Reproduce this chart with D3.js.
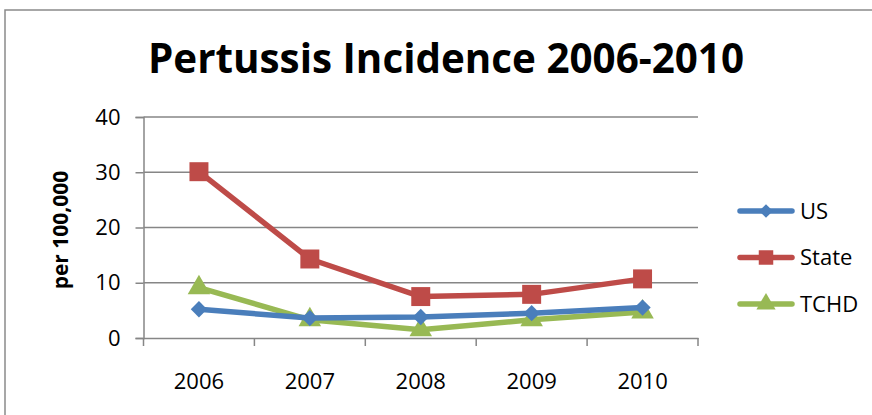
<!DOCTYPE html>
<html>
<head>
<meta charset="utf-8">
<script src="https://cdn.jsdelivr.net/npm/d3@7"></script>
<style>
  html, body { margin: 0; padding: 0; background: #fff; }
  svg { display: block; }
  text { font-family: "Open Sans", "DejaVu Sans", sans-serif; fill: #000; }
</style>
</head>
<body>
<svg id="chart" width="872" height="415"></svg>
<script>
// Pertussis incidence per 100,000 population
const years = ["2006", "2007", "2008", "2009", "2010"];
const usValues = [5.2, 3.6, 3.8, 4.5, 5.5];
const stateValues = [30.1, 14.3, 7.5, 7.9, 10.7];
const tchdValues = [9.1, 3.3, 1.5, 3.3, 4.7];
const yTicks = [0, 10, 20, 30, 40];

const seriesList = [
  { name: "US", values: usValues, color: "#4A7EBB", marker: "diamond" },
  { name: "State", values: stateValues, color: "#BE4B48", marker: "square" },
  { name: "TCHD", values: tchdValues, color: "#98B954", marker: "triangle" }
];

const svg = d3.select("#chart");

// chart frame
svg.append("rect")
  .attr("x", 5).attr("y", 10)
  .attr("width", 880).attr("height", 420)
  .attr("fill", "#fff")
  .attr("stroke", "#8a8a8a").attr("stroke-width", 1.5);

// title
svg.append("text")
  .attr("x", 446).attr("y", 73)
  .attr("text-anchor", "middle")
  .attr("font-size", 41).attr("font-weight", "bold")
  .attr("textLength", 596).attr("lengthAdjust", "spacingAndGlyphs")
  .text("Pertussis Incidence 2006-2010");

const plot = { left: 143.5, right: 698, top: 117, bottom: 338 };

const x = d3.scaleBand().domain(years).range([plot.left, plot.right]);
const y = d3.scaleLinear().domain([0, 40]).range([plot.bottom, plot.top]);

// horizontal gridlines
svg.append("g")
  .selectAll("line")
  .data(yTicks.filter(d => d > 0))
  .join("line")
  .attr("x1", plot.left).attr("x2", plot.right)
  .attr("y1", d => y(d)).attr("y2", d => y(d))
  .attr("stroke", "#868686").attr("stroke-width", 1.5);

// y axis
const yAxis = svg.append("g")
  .attr("transform", `translate(${plot.left},0)`)
  .call(d3.axisLeft(y).tickValues(yTicks).tickSize(8).tickPadding(15).tickFormat(d3.format("d")));
yAxis.select(".domain").attr("stroke", "#868686").attr("stroke-width", 1.5);
yAxis.selectAll(".tick line").attr("stroke", "#868686").attr("stroke-width", 1.5);
yAxis.selectAll(".tick text")
  .attr("font-size", 22).attr("font-family", "Open Sans, sans-serif").attr("fill", "#000");

// x axis: labels at band centres, tick marks on band boundaries
const xAxis = svg.append("g")
  .attr("transform", `translate(0,${plot.bottom})`)
  .call(d3.axisBottom(x).tickSize(0).tickPadding(35));
xAxis.select(".domain").attr("stroke", "#868686").attr("stroke-width", 1.5);
xAxis.selectAll(".tick text")
  .attr("font-size", 22).attr("font-family", "Open Sans, sans-serif").attr("fill", "#000");

const boundaries = years.map(d => x(d)).concat([x(years[years.length - 1]) + x.bandwidth()]);
svg.append("g")
  .selectAll("line")
  .data(boundaries)
  .join("line")
  .attr("x1", d => d).attr("x2", d => d)
  .attr("y1", plot.bottom).attr("y2", plot.bottom + 8)
  .attr("stroke", "#868686").attr("stroke-width", 1.5);

// y axis title
svg.append("text")
  .attr("transform", `translate(68,230) rotate(-90)`)
  .attr("text-anchor", "middle")
  .attr("font-size", 21).attr("font-weight", "bold")
  .text("per 100,000");

// marker shapes
const symbolType = { diamond: d3.symbolDiamond2, square: d3.symbolSquare, triangle: d3.symbolTriangle };
const markerPath = {
  diamond: d3.symbol().type(symbolType.diamond).size(170)(),
  square: d3.symbol().type(symbolType.square).size(360)(),
  triangle: d3.symbol().type(symbolType.triangle).size(220)()
};
const legendMarkerPath = {
  diamond: d3.symbol().type(symbolType.diamond).size(120)(),
  square: d3.symbol().type(symbolType.square).size(210)(),
  triangle: d3.symbol().type(symbolType.triangle).size(160)()
};

const cx = d => x(d) + x.bandwidth() / 2;
const line = d3.line().x(d => cx(d.year)).y(d => y(d.value));

// draw TCHD first so US and State sit on top where they overlap
const drawOrder = [seriesList[2], seriesList[0], seriesList[1]];
drawOrder.forEach(s => {
  const pts = years.map((yr, i) => ({ year: yr, value: s.values[i] }));
  const g = svg.append("g");
  g.append("path")
    .datum(pts)
    .attr("d", line)
    .attr("fill", "none")
    .attr("stroke", s.color)
    .attr("stroke-width", 5.5)
    .attr("stroke-linejoin", "round")
    .attr("stroke-linecap", "round");
  g.selectAll("path.mk")
    .data(pts)
    .join("path")
    .attr("class", "mk")
    .attr("d", markerPath[s.marker])
    .attr("transform", d => `translate(${cx(d.year)},${y(d.value)})`)
    .attr("fill", s.color);
});

// legend
const legend = svg.append("g");
seriesList.forEach((s, i) => {
  const ly = 211 + i * 46.5;
  legend.append("line")
    .attr("x1", 740).attr("x2", 792)
    .attr("y1", ly).attr("y2", ly)
    .attr("stroke", s.color).attr("stroke-width", 5.5)
    .attr("stroke-linecap", "round");
  legend.append("path")
    .attr("d", legendMarkerPath[s.marker])
    .attr("transform", `translate(766,${ly})`)
    .attr("fill", s.color);
  legend.append("text")
    .attr("x", 800).attr("y", ly)
    .attr("dy", "0.36em")
    .attr("font-size", 22)
    .text(s.name);
});
</script>
</body>
</html>
